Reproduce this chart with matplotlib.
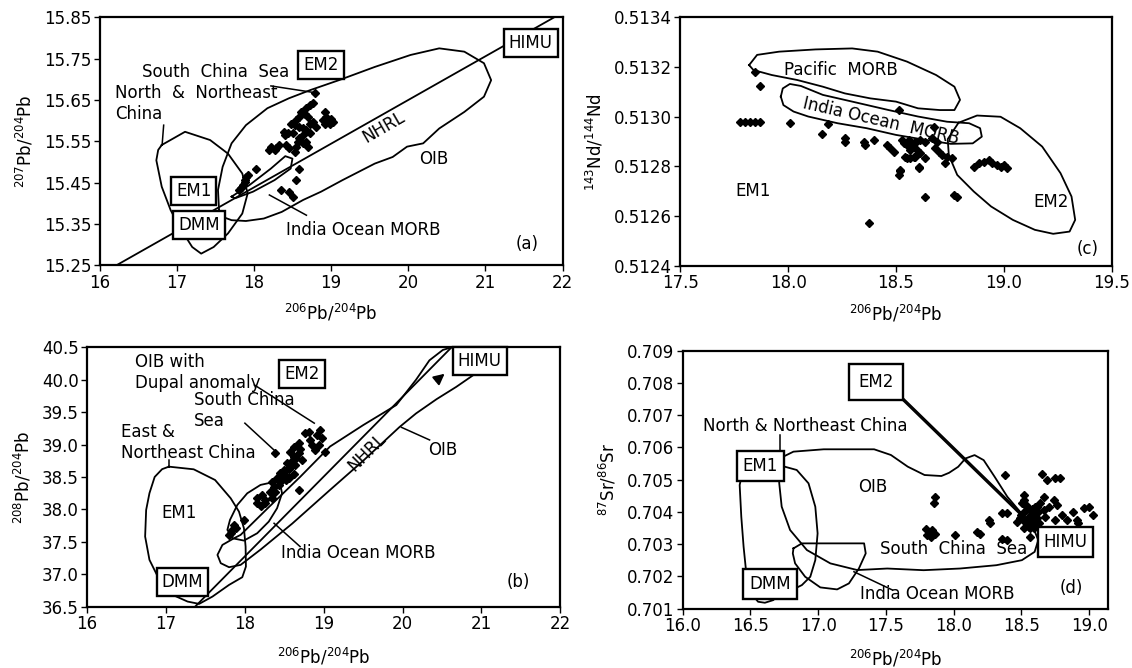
import matplotlib
matplotlib.use("Agg")
import matplotlib.pyplot as plt
from matplotlib.ticker import FormatStrFormatter

plt.rcParams['font.family'] = ['DejaVu Sans']
plt.rcParams['font.size'] = 12

# ---------------- (a) 207Pb/204Pb vs 206Pb/204Pb ----------------
a_pts_x = [18.79, 18.72, 18.76, 18.68, 18.61, 18.59, 18.66, 18.70, 18.55, 18.48,
           18.53, 18.59, 18.63, 18.68, 18.72, 18.76, 18.81, 18.72, 18.63, 18.59,
           18.57, 18.63, 18.68, 18.70, 18.55, 18.53, 18.46, 18.42, 18.39, 18.40,
           18.44, 18.33, 18.27, 18.20, 18.22, 18.29, 18.50,
           18.92, 18.94, 18.96, 19.00, 19.02, 18.98, 18.92, 18.89,
           18.03, 18.59, 18.55, 18.35, 18.46, 18.50,
           17.90, 17.88, 17.86, 17.83, 17.81, 17.89, 17.92]
a_pts_y = [15.666, 15.638, 15.642, 15.630, 15.622, 15.609, 15.617, 15.609, 15.601, 15.593,
           15.589, 15.585, 15.581, 15.577, 15.593, 15.597, 15.585, 15.569, 15.565, 15.557,
           15.549, 15.545, 15.549, 15.537, 15.537, 15.525, 15.533, 15.541, 15.573, 15.565,
           15.569, 15.541, 15.529, 15.529, 15.537, 15.533, 15.569,
           15.622, 15.609, 15.601, 15.605, 15.597, 15.593, 15.593, 15.601,
           15.484, 15.484, 15.456, 15.432, 15.428, 15.416,
           15.464, 15.452, 15.444, 15.436, 15.432, 15.456, 15.468]

a_nne_x = [16.805, 17.107, 17.432, 17.664, 17.849, 17.919, 17.849, 17.664, 17.478, 17.316,
           17.200, 17.060, 16.921, 16.805, 16.735, 16.759]
a_nne_y = [15.541, 15.573, 15.553, 15.520, 15.472, 15.424, 15.375, 15.327, 15.294, 15.278,
           15.294, 15.335, 15.383, 15.440, 15.504, 15.529]

a_oib_x = [17.548, 17.534, 17.594, 17.710, 17.896, 18.174, 18.452, 18.731, 19.102, 19.566,
           20.030, 20.401, 20.726, 20.981, 21.074, 20.981, 20.726, 20.401, 20.193, 19.984,
           19.798, 19.566, 19.148, 18.870, 18.638, 18.360, 18.128, 17.896, 17.710, 17.594]
a_oib_y = [15.383, 15.432, 15.488, 15.545, 15.589, 15.630, 15.654, 15.674, 15.698, 15.730,
           15.759, 15.775, 15.767, 15.739, 15.698, 15.658, 15.621, 15.581, 15.545, 15.537,
           15.512, 15.496, 15.456, 15.428, 15.408, 15.379, 15.363, 15.357, 15.359, 15.367]

a_imorb_x = [17.710, 17.942, 18.220, 18.406, 18.499, 18.476, 18.267, 17.988, 17.756]
a_imorb_y = [15.416, 15.444, 15.484, 15.514, 15.508, 15.484, 15.456, 15.428, 15.412]

a_nhrl_x = [16.22, 21.89]
a_nhrl_y = [15.25, 15.85]

# ---------------- (b) 208Pb/204Pb vs 206Pb/204Pb ----------------
b_pts_x = [18.387, 18.766, 18.808, 18.913, 18.955, 18.976, 18.934, 18.892, 18.682, 18.619,
           18.577, 18.619, 18.682, 18.724, 18.535, 18.577, 18.640, 18.493, 18.450, 18.513,
           18.555, 18.471, 18.408, 18.429, 18.366, 18.387, 18.345, 18.682, 18.156, 18.219,
           18.261, 18.156, 18.324, 18.345, 17.988, 17.862, 17.841, 17.820, 17.883, 17.799,
           18.850, 18.829, 19.02, 18.50, 18.56, 18.60, 18.65, 18.70, 18.45, 18.52,
           18.62, 18.20, 18.25]
b_pts_y = [38.865, 39.174, 39.199, 39.148, 39.225, 39.097, 38.994, 38.917, 39.019, 38.968,
           38.891, 38.814, 38.865, 38.762, 38.711, 38.659, 38.685, 38.608, 38.557, 38.531,
           38.480, 38.454, 38.480, 38.377, 38.351, 38.274, 38.428, 38.300, 38.171, 38.223,
           38.145, 38.094, 38.274, 38.171, 37.837, 37.760, 37.683, 37.631, 37.708, 37.606,
           38.994, 39.071, 38.89, 38.58, 38.62, 38.75, 38.80, 38.93, 38.50, 38.45,
           38.55, 38.05, 38.10]

b_em1_x = [17.036, 17.351, 17.622, 17.694, 17.820, 17.925, 17.988, 18.009, 18.013, 17.967,
           17.799, 17.589, 17.420, 17.273, 17.084, 16.916, 16.790, 16.735, 16.748, 16.790,
           16.856, 16.95]
b_em1_y = [38.659, 38.618, 38.453, 38.351, 38.171, 37.965, 37.708, 37.426, 37.117, 36.953,
           36.834, 36.654, 36.541, 36.577, 36.680, 36.912, 37.220, 37.580, 37.991, 38.25,
           38.50, 38.62]

b_imorb_x = [18.387, 18.198, 18.030, 17.904, 17.811, 17.778, 17.841, 17.988, 18.156, 18.303,
             18.408, 18.471, 18.450]
b_imorb_y = [38.428, 38.377, 38.248, 38.068, 37.837, 37.683, 37.554, 37.518, 37.631, 37.811,
             38.017, 38.248, 38.377]

b_oib_x = [20.93, 20.68, 20.43, 20.17, 19.96, 19.50, 19.08, 18.60, 18.20, 17.946,
           17.799, 17.694, 17.652, 17.715, 17.862, 17.946, 18.30, 18.70, 19.08, 19.50,
           19.92, 20.17, 20.34, 20.51, 20.62]
b_oib_y = [40.10, 39.89, 39.70, 39.48, 39.27, 38.75, 38.30, 37.78, 37.38, 37.143,
           37.107, 37.169, 37.297, 37.451, 37.554, 37.606, 38.03, 38.50, 38.97, 39.30,
           39.61, 40.00, 40.30, 40.46, 40.50]

b_nhrl_x = [17.37, 20.62]
b_nhrl_y = [36.5, 40.5]

# ---------------- (c) 143Nd/144Nd vs 206Pb/204Pb ----------------
c_pts_x = [17.847, 17.870, 17.777, 17.800, 17.823, 17.847, 17.870, 18.009, 18.187, 18.156,
           18.265, 18.265, 18.350, 18.358, 18.396, 18.458, 18.474, 18.489, 18.512, 18.536,
           18.559, 18.575, 18.590, 18.567, 18.598, 18.543, 18.567, 18.590, 18.512, 18.520,
           18.605, 18.373,
           18.528, 18.559, 18.590, 18.613, 18.636, 18.667, 18.691, 18.551, 18.582, 18.613,
           18.636, 18.605, 18.520, 18.683, 18.698, 18.714, 18.737, 18.760, 18.729, 18.861,
           18.884, 18.907, 18.931, 18.946, 18.969, 18.985, 19.000, 19.016, 18.636, 18.768,
           18.784, 18.678]
c_pts_y = [0.513182, 0.513124, 0.512977, 0.512977, 0.512977, 0.512977, 0.512977, 0.512974, 0.512971, 0.512931,
           0.512914, 0.512900, 0.512900, 0.512887, 0.512907, 0.512887, 0.512873, 0.512860, 0.513028, 0.512894,
           0.512907, 0.512880, 0.512900, 0.512867, 0.512867, 0.512840, 0.512833, 0.512840, 0.512766, 0.512780,
           0.512793, 0.512572,
           0.512906, 0.512879, 0.512893, 0.512906, 0.512900, 0.512913, 0.512900, 0.512833, 0.512839, 0.512853,
           0.512833, 0.512799, 0.512786, 0.512873, 0.512859, 0.512846, 0.512839, 0.512833, 0.512812, 0.512799,
           0.512812, 0.512819, 0.512826, 0.512812, 0.512806, 0.512799, 0.512806, 0.512792, 0.512678, 0.512685,
           0.512678, 0.512960]

c_pac_x = [17.819, 17.856, 17.958, 18.127, 18.297, 18.415, 18.551, 18.686, 18.771, 18.797,
           18.771, 18.703, 18.602, 18.500, 18.381, 18.263, 18.161, 18.042, 17.924, 17.839]
c_pac_y = [0.513208, 0.513249, 0.513262, 0.513271, 0.513275, 0.513262, 0.513222, 0.513168, 0.513121, 0.513068,
           0.513027, 0.513027, 0.513034, 0.513061, 0.513074, 0.513094, 0.513121, 0.513148, 0.513168, 0.513188]

c_imorb_x = [17.966, 17.975, 18.008, 18.059, 18.161, 18.297, 18.466, 18.602, 18.737, 18.839,
             18.890, 18.898, 18.856, 18.754, 18.636, 18.500, 18.364, 18.229, 18.093, 18.025, 17.978]
c_imorb_y = [0.513081, 0.513114, 0.513132, 0.513124, 0.513088, 0.513061, 0.513027, 0.513001, 0.512980, 0.512974,
             0.512954, 0.512920, 0.512893, 0.512891, 0.512907, 0.512927, 0.512954, 0.512974, 0.513001, 0.513021,
             0.513047]

c_em2_x = [18.790, 18.876, 18.985, 19.076, 19.178, 19.263, 19.314, 19.331, 19.305, 19.229,
           19.144, 19.042, 18.941, 18.861, 18.784, 18.745, 18.740]
c_em2_y = [0.512976, 0.513005, 0.513000, 0.512954, 0.512880, 0.512773, 0.512679, 0.512585, 0.512538, 0.512529,
           0.512545, 0.512585, 0.512639, 0.512699, 0.512766, 0.512846, 0.512910]

# ---------------- (d) 87Sr/86Sr vs 206Pb/204Pb ----------------
d_pts_x = [18.381, 18.651, 18.688, 17.865, 17.853, 18.516, 18.356, 18.393, 18.258, 18.270,
           17.792, 17.816, 17.841, 17.865, 17.804, 17.829, 18.013, 18.172, 18.197, 18.356,
           18.393,
           18.503, 18.540, 18.565, 18.589, 18.553, 18.577, 18.614, 18.626, 18.528, 18.491,
           18.467, 18.602, 18.638, 18.663, 18.675, 18.553, 18.589, 18.516, 18.565, 18.749,
           18.737,
           18.785, 18.745, 18.665, 18.759, 18.705, 18.879, 18.906, 18.960, 19.000, 19.027,
           18.799, 18.839, 18.920, 18.517, 18.611, 18.584,
           18.52, 18.54, 18.57, 18.60, 18.56, 18.58, 18.50, 18.62, 18.53, 18.59]
d_pts_y = [0.705139, 0.705170, 0.704984, 0.704467, 0.704260, 0.704518, 0.703970, 0.703970, 0.703742, 0.703639,
           0.703483, 0.703380, 0.703432, 0.703328, 0.703276, 0.703225, 0.703276, 0.703380, 0.703308, 0.703173,
           0.703121,
           0.704260, 0.704156, 0.704053, 0.703949, 0.703846, 0.703742, 0.703794, 0.703639, 0.703691, 0.703794,
           0.703691, 0.704156, 0.704260, 0.704053, 0.703846, 0.703535, 0.703484, 0.703484, 0.703225, 0.703742,
           0.704363,
           0.705036, 0.705036, 0.704467, 0.704208, 0.704157, 0.704001, 0.703743, 0.704105, 0.704157, 0.703898,
           0.703898, 0.703743, 0.703639, 0.704364, 0.704157, 0.704001,
           0.70400, 0.70370, 0.70390, 0.70360, 0.70350, 0.70410, 0.70390, 0.70400, 0.70420, 0.70380]

d_oib_x = [16.708, 16.743, 16.818, 17.041, 17.413, 17.537, 17.661, 17.785, 17.909, 17.966,
           18.033, 18.087, 18.154, 18.221, 18.302, 18.396, 18.490, 18.584, 18.624, 18.597,
           18.503, 18.315, 18.047, 17.778, 17.510, 17.289, 17.090, 16.917, 16.793, 16.731, 16.713]
d_oib_y = [0.705454, 0.705713, 0.705868, 0.705941, 0.705941, 0.705764, 0.705402, 0.705143, 0.705112, 0.705212,
           0.705398, 0.705657, 0.705761, 0.705605, 0.705088, 0.704467, 0.704001, 0.703536, 0.703122, 0.702759,
           0.702501, 0.702345, 0.702242, 0.702190, 0.702242, 0.702194, 0.702401, 0.702815, 0.703436, 0.704161,
           0.704885]

d_nne_x = [16.44, 16.421, 16.433, 16.450, 16.470, 16.50, 16.557, 16.607, 16.669, 16.75,
           16.805, 16.880, 16.942, 16.979, 16.996, 16.979, 16.929, 16.842, 16.708, 16.60]
d_nne_y = [0.7052, 0.704833, 0.703850, 0.702918, 0.702090, 0.70150, 0.701211, 0.701180, 0.701262, 0.70160,
           0.701573, 0.701728, 0.701987, 0.702504, 0.703332, 0.704160, 0.704885, 0.705299, 0.705454, 0.7054]

d_imorb_x = [16.818, 16.880, 17.090, 17.339, 17.351, 17.301, 17.227, 17.140, 17.016, 16.904, 16.830, 16.813]
d_imorb_y = [0.702867, 0.703022, 0.703022, 0.703022, 0.702711, 0.702246, 0.701780, 0.701594, 0.701656, 0.701987,
             0.702401, 0.702711]

d_mix_x = [17.60, 18.56]
d_mix_y = [0.70757, 0.70364]


def field(ax, xs, ys):
    ax.plot(list(xs) + [xs[0]], list(ys) + [ys[0]], color="black", lw=1.3,
            solid_joinstyle="round", zorder=2)


def line(ax, xs, ys, lw=1.1):
    ax.plot(xs, ys, color="black", lw=lw, zorder=2)


def boxed(ax, x, y, s, pad=0.3):
    ax.text(x, y, s, ha="center", va="center", fontsize=12, zorder=6,
            bbox=dict(boxstyle=f"square,pad={pad}", fc="white", ec="black", lw=1.7))


def label(ax, x, y, s, ha="left", **kw):
    ax.text(x, y, s, ha=ha, va="center", fontsize=12, zorder=5, **kw)


def points(ax, xs, ys):
    ax.plot(xs, ys, "D", color="black", ms=4.5, ls="none", zorder=4)


def style(ax, xlim, ylim, xticks, yticks, xfmt, yfmt, ylabel, xpad=8):
    ax.set_xlim(*xlim)
    ax.set_ylim(*ylim)
    ax.set_xticks(xticks)
    ax.set_yticks(yticks)
    ax.xaxis.set_major_formatter(FormatStrFormatter(xfmt))
    ax.yaxis.set_major_formatter(FormatStrFormatter(yfmt))
    for sp in ax.spines.values():
        sp.set_linewidth(1.6)
    ax.tick_params(direction="out", length=4, width=1, labelsize=12, pad=2)
    ax.set_xlabel(r"$^{206}$Pb/$^{204}$Pb", fontsize=12, labelpad=xpad)
    ax.set_ylabel(ylabel, fontsize=12, labelpad=6)


fig = plt.figure(figsize=(11.32, 6.68), dpi=100)
ax_a = fig.add_axes([0.088, 0.603, 0.409, 0.371])
ax_c = fig.add_axes([0.601, 0.602, 0.381, 0.372])
ax_b = fig.add_axes([0.077, 0.092, 0.418, 0.388])
ax_d = fig.add_axes([0.603, 0.089, 0.376, 0.386])

# ---- (a)
ax = ax_a
style(ax, (16, 22), (15.25, 15.85), range(16, 23), [15.25 + 0.1 * i for i in range(7)],
      "%d", "%.2f", r"$^{207}$Pb/$^{204}$Pb")
field(ax, a_nne_x, a_nne_y)
field(ax, a_oib_x, a_oib_y)
field(ax, a_imorb_x, a_imorb_y)
line(ax, a_nhrl_x, a_nhrl_y, lw=1.3)
points(ax, a_pts_x, a_pts_y)
line(ax, [18.22, 18.78], [15.684, 15.668])
line(ax, [16.83, 16.81], [15.589, 15.541])
line(ax, [18.20, 18.68], [15.420, 15.371])
label(ax, 16.55, 15.718, "South  China  Sea")
label(ax, 16.20, 15.667, "North  &  Northeast")
label(ax, 16.20, 15.617, "China")
label(ax, 19.68, 15.583, "NHRL", ha="center", rotation=30, rotation_mode="anchor")
label(ax, 20.33, 15.506, "OIB", ha="center")
label(ax, 18.41, 15.336, "India Ocean MORB")
label(ax, 21.54, 15.302, "(a)", ha="center")
boxed(ax, 18.87, 15.735, "EM2")
boxed(ax, 21.585, 15.787, "HIMU")
boxed(ax, 17.22, 15.429, "EM1")
boxed(ax, 17.29, 15.347, "DMM")

# ---- (b)
ax = ax_b
style(ax, (16, 22), (36.5, 40.5), range(16, 23), [36.5 + 0.5 * i for i in range(9)],
      "%d", "%.1f", r"$^{208}$Pb/$^{204}$Pb", xpad=10)
field(ax, b_em1_x, b_em1_y)
field(ax, b_imorb_x, b_imorb_y)
ax.plot(b_oib_x, b_oib_y, color="black", lw=1.3, solid_joinstyle="round", zorder=2)
line(ax, b_nhrl_x, b_nhrl_y, lw=1.3)
points(ax, b_pts_x, b_pts_y)
line(ax, [18.12, 18.88], [39.92, 39.33])
line(ax, [18.00, 18.41], [39.33, 38.87])
line(ax, [17.036, 17.036], [38.76, 38.659])
line(ax, [18.37, 18.70], [37.785, 37.425])
line(ax, [19.985, 20.342], [39.266, 39.071])
ax.annotate("", xy=(20.56, 40.12), xytext=(20.40, 39.96),
            arrowprops=dict(arrowstyle="-|>", color="black", lw=1.4, mutation_scale=16), zorder=5)
label(ax, 16.608, 40.279, "OIB with")
label(ax, 16.608, 39.955, "Dupal anomaly")
label(ax, 17.351, 39.688, "South China")
label(ax, 17.351, 39.369, "Sea")
label(ax, 16.428, 39.199, "East &")
label(ax, 16.428, 38.875, "Northeast China")
label(ax, 17.171, 37.94, "EM1", ha="center")
label(ax, 19.55, 38.88, "NHRL", ha="center", rotation=45, rotation_mode="anchor")
label(ax, 20.324, 38.916, "OIB")
label(ax, 18.455, 37.323, "India Ocean MORB")
label(ax, 21.47, 36.875, "(b)", ha="center")
boxed(ax, 18.725, 40.089, "EM2")
boxed(ax, 20.977, 40.294, "HIMU")
boxed(ax, 17.207, 36.886, "DMM")

# ---- (c)
ax = ax_c
style(ax, (17.5, 19.5), (0.5124, 0.5134), [17.5 + 0.5 * i for i in range(5)],
      [0.5124 + 0.0002 * i for i in range(6)], "%.1f", "%.4f", r"$^{143}$Nd/$^{144}$Nd")
field(ax, c_pac_x, c_pac_y)
field(ax, c_imorb_x, c_imorb_y)
field(ax, c_em2_x, c_em2_y)
points(ax, c_pts_x, c_pts_y)
label(ax, 18.246, 0.513188, "Pacific  MORB", ha="center")
label(ax, 18.43, 0.512982, "India Ocean  MORB", ha="center", rotation=-13, rotation_mode="anchor")
label(ax, 17.836, 0.512703, "EM1", ha="center")
label(ax, 19.217, 0.512659, "EM2", ha="center")
label(ax, 19.39, 0.512467, "(c)", ha="center")

# ---- (d)
ax = ax_d
style(ax, (16.0, 19.14), (0.701, 0.709), [16.0 + 0.5 * i for i in range(7)],
      [0.701 + 0.001 * i for i in range(9)], "%.1f", "%.3f", r"$^{87}$Sr/$^{86}$Sr", xpad=10)
field(ax, d_oib_x, d_oib_y)
field(ax, d_nne_x, d_nne_y)
field(ax, d_imorb_x, d_imorb_y)
line(ax, d_mix_x, d_mix_y, lw=1.4)
line(ax, [x + 0.015 for x in d_mix_x], d_mix_y, lw=1.4)
points(ax, d_pts_x, d_pts_y)
line(ax, [16.72, 16.72], [0.70640, 0.70545])
line(ax, [17.264, 17.549], [0.702142, 0.701573])
label(ax, 16.153, 0.706661, "North & Northeast China")
label(ax, 17.402, 0.704757, "OIB", ha="center")
label(ax, 17.456, 0.702842, "South  China  Sea")
label(ax, 17.308, 0.701445, "India Ocean MORB")
label(ax, 18.866, 0.701652, "(d)", ha="center")
boxed(ax, 17.429, 0.708038, "EM2", pad=0.55)
boxed(ax, 16.575, 0.705419, "EM1", pad=0.35)
boxed(ax, 16.645, 0.701756, "DMM", pad=0.35)
boxed(ax, 18.826, 0.703070, "HIMU", pad=0.35)

fig.savefig("out.png", dpi=100)
